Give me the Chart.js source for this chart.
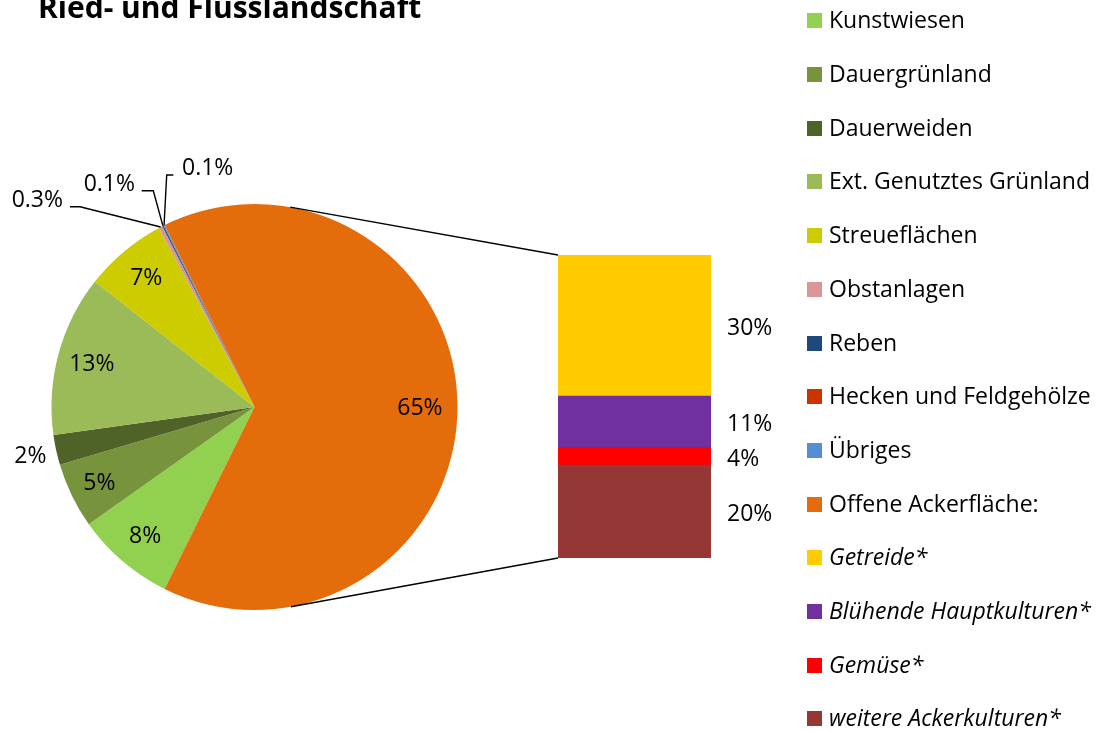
<!DOCTYPE html>
<html><head><meta charset="utf-8">
<script src="https://cdn.jsdelivr.net/npm/chart.js@4.4.1/dist/chart.umd.min.js"></script>
<style>
html,body{margin:0;padding:0;background:#fff;}
#wrap{position:relative;width:1111px;height:733px;overflow:hidden;background:#fff;}
#wrap canvas{position:absolute;left:0;top:0;}
</style></head><body>
<div id="wrap"><canvas id="pie" width="1111" height="733"></canvas><canvas id="bar" width="1111" height="733"></canvas></div>
<script>
// ---------- data ----------
const TITLE = 'Ried- und Flusslandschaft';
const pieLabels = ['Kunstwiesen','Dauergrünland','Dauerweiden','Ext. Genutztes Grünland','Streueflächen','Obstanlagen','Reben','Hecken und Feldgehölze','Übriges'];
const pieValues = [7.9, 5.2, 2.4, 12.8, 6.6, 0.3, 0.1, 0, 0.1];
const pieColors = ['#92D050','#77933C','#4F6228','#9BBB59','#CCCC00','#D99694','#1F497D','#CC3300','#558ED5'];
const otherLabel = 'Offene Ackerfläche:';
const otherColor = '#E46C0A';
const subLabels = ['Getreide*','Blühende Hauptkulturen*','Gemüse*','weitere Ackerkulturen*'];
const subValues = [30.1, 10.9, 3.8, 19.8];
const subColors = ['#FFCC00','#7030A0','#FF0000','#953735'];

// ---------- derived ----------
const subTotal = subValues.reduce((a,b)=>a+b,0);
const allLabels = pieLabels.concat([otherLabel]);
const allValues = pieValues.concat([subTotal]);
const allColors = pieColors.concat([otherColor]);
const pieTotal = allValues.reduce((a,b)=>a+b,0);

const FONT = '"Open Sans", Lato, sans-serif';
const FS = 23;

// label placement per pie slice (style only)
const labelPlace = [
  {type:'r', k:0.83}, {type:'r', k:0.85}, {type:'r', k:1.13}, {type:'r', k:0.83}, {type:'r', k:0.83},
  {type:'lead', elbow:[-174.5,-200.3], end:[-184.5,-200.3], text:[-191.5,-207], align:'right'},
  {type:'lead', elbow:[-101.2,-216.3], end:[-112.8,-216.3], text:[-119.5,-223], align:'right'},
  {type:'none'},
  {type:'lead', elbow:[-87.8,-232], end:[-81.2,-232], text:[-72.5,-239], align:'left'},
  {type:'r', k:0.815}
];

function pctText(v){
  const p = v / pieTotal * 100;
  return p < 1 ? p.toFixed(1) + '%' : Math.round(p) + '%';
}

const titlePlugin = {
  id:'titleP',
  afterDraw(chart){
    const ctx = chart.ctx; ctx.save();
    ctx.font = 'bold 30px ' + FONT; ctx.fillStyle = '#000';
    ctx.textAlign = 'left'; ctx.textBaseline = 'alphabetic';
    ctx.fillText(TITLE, 38, 18);
    ctx.restore();
  }
};

const legendPlugin = {
  id:'legendP',
  afterDraw(chart){
    const ctx = chart.ctx; ctx.save();
    const items = allLabels.map((l,i)=>({l, c:allColors[i], it:false}))
      .concat(subLabels.map((l,i)=>({l, c:subColors[i], it:true})));
    items.forEach((o,i)=>{
      const cy = 20.8 + 53.7*i;
      ctx.fillStyle = o.c;
      ctx.fillRect(807, Math.round(cy-7.5), 15, 15);
      ctx.fillStyle = '#000';
      ctx.font = (o.it ? 'italic ' : '') + FS + 'px ' + FONT;
      ctx.textAlign = 'left'; ctx.textBaseline = 'middle';
      ctx.fillText(o.l, 829, cy + 1);
    });
    ctx.restore();
  }
};

const pieLabelPlugin = {
  id:'pieLabels',
  afterDatasetsDraw(chart){
    const ctx = chart.ctx; const meta = chart.getDatasetMeta(0);
    const data = chart.data.datasets[0].data;
    ctx.save();
    ctx.font = FS + 'px ' + FONT; ctx.fillStyle = '#000'; ctx.strokeStyle = '#000';
    ctx.lineWidth = 1.4; ctx.textBaseline = 'middle';
    meta.data.forEach((arc,i)=>{
      const v = data[i]; if (!v) return;
      const pl = labelPlace[i]; if (pl.type === 'none') return;
      const p = arc.getProps(['x','y','startAngle','endAngle','outerRadius'], true);
      const mid = (p.startAngle + p.endAngle)/2, r = p.outerRadius;
      const txt = pctText(v);
      if (pl.type === 'r'){
        ctx.textAlign = 'center';
        ctx.fillText(txt, p.x + Math.cos(mid)*r*pl.k, p.y + Math.sin(mid)*r*pl.k + 1);
      } else {
        const s = r/203;
        const sx = p.x + Math.cos(mid)*r, sy = p.y + Math.sin(mid)*r;
        ctx.beginPath();
        ctx.moveTo(sx, sy);
        ctx.lineTo(p.x + pl.elbow[0]*s, p.y + pl.elbow[1]*s);
        ctx.lineTo(p.x + pl.end[0]*s, p.y + pl.end[1]*s);
        ctx.stroke();
        ctx.textAlign = pl.align;
        ctx.fillText(txt, p.x + pl.text[0]*s, p.y + pl.text[1]*s);
      }
    });
    ctx.restore();
  }
};

const pieChart = new Chart(document.getElementById('pie'), {
  type:'pie',
  data:{ labels: allLabels, datasets:[{ data: allValues, backgroundColor: allColors, borderWidth:0, hoverOffset:0 }] },
  options:{
    responsive:false, animation:false, events:[],
    rotation: 90 + subTotal/pieTotal*180,
    layout:{ padding:{ left:51.5, top:204, right:653.5, bottom:123 } },
    plugins:{ legend:{display:false}, tooltip:{enabled:false}, title:{display:false} }
  },
  plugins:[pieLabelPlugin, titlePlugin, legendPlugin]
});

const barLabelPlugin = {
  id:'barLabels',
  afterDatasetsDraw(chart){
    const ctx = chart.ctx; ctx.save();
    ctx.font = FS + 'px ' + FONT; ctx.fillStyle = '#000';
    ctx.textAlign = 'left'; ctx.textBaseline = 'middle';
    chart.data.datasets.forEach((ds,di)=>{
      const el = chart.getDatasetMeta(di).data[0];
      const p = el.getProps(['x','y','base','width'], true);
      ctx.fillText(pctText(ds.data[0]), p.x + p.width/2 + 16, (p.y + p.base)/2 + 3);
    });
    ctx.restore();
  }
};

const connectorPlugin = {
  id:'connectors',
  afterDraw(chart){
    const arc = pieChart.getDatasetMeta(0).data[0];
    const c = arc.getProps(['x','y','outerRadius'], true);
    const n = chart.data.datasets.length;
    const topEl = chart.getDatasetMeta(n-1).data[0].getProps(['x','y','base','width'], true);
    const botEl = chart.getDatasetMeta(0).data[0].getProps(['x','y','base','width'], true);
    const corners = [[topEl.x - topEl.width/2, topEl.y, -1], [botEl.x - botEl.width/2, botEl.base, 1]];
    const ctx = chart.ctx; ctx.save();
    ctx.strokeStyle = '#000'; ctx.lineWidth = 1.4;
    corners.forEach(([px,py,sgn])=>{
      const dx = px - c.x, dy = py - c.y, d = Math.hypot(dx,dy);
      const phi = Math.atan2(dy,dx), alpha = Math.acos(c.outerRadius/d);
      const a = phi + sgn*alpha;
      ctx.beginPath();
      ctx.moveTo(c.x + Math.cos(a)*c.outerRadius, c.y + Math.sin(a)*c.outerRadius);
      ctx.lineTo(px, py);
      ctx.stroke();
    });
    ctx.restore();
  }
};

const barChart = new Chart(document.getElementById('bar'), {
  type:'bar',
  data:{ labels:[''], datasets: subLabels.map((l,i)=>({ label:l, data:[subValues[i]], backgroundColor:subColors[i], borderWidth:0, barPercentage:1, categoryPercentage:1 })).reverse() },
  options:{
    responsive:false, animation:false, events:[],
    layout:{ padding:{ left:558, right:400, top:255, bottom:175 } },
    scales:{ x:{display:false, stacked:true}, y:{display:false, stacked:true, min:0, max:subTotal} },
    plugins:{ legend:{display:false}, tooltip:{enabled:false} }
  },
  plugins:[barLabelPlugin, connectorPlugin]
});
</script>
</body></html>
